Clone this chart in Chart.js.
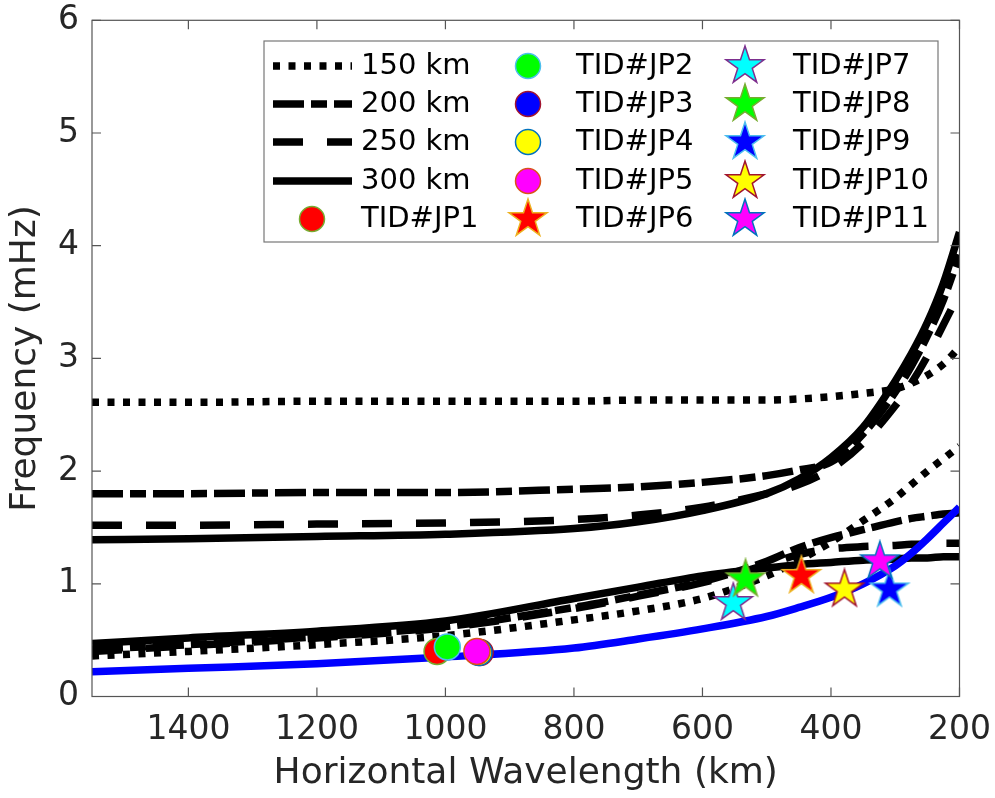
<!DOCTYPE html>
<html>
<head>
<meta charset="utf-8">
<script src="https://cdn.jsdelivr.net/npm/chart.js@4.4.0/dist/chart.umd.min.js"></script>
<style>
body { margin: 0; background: #fff; }
#wrap { width: 995px; height: 798px; }
</style>
</head>
<body>
<div id="wrap"><canvas id="canvas"></canvas></div>
<script>
// sample wavelengths (km)
var wavelength = [1550, 1400, 1200, 1000, 800, 700, 600, 500, 450, 400, 350, 300, 275, 250, 225, 200];
// upper branches (mHz)
var up150 = [2.61, 2.61, 2.62, 2.62, 2.62, 2.63, 2.63, 2.63, 2.64, 2.66, 2.69, 2.73, 2.78, 2.85, 2.95, 3.10];
var up200 = [1.80, 1.80, 1.81, 1.81, 1.84, 1.86, 1.90, 1.96, 2.01, 2.08, 2.33, 2.70, 2.93, 3.20, 3.52, 3.92];
var up250 = [1.52, 1.52, 1.53, 1.54, 1.57, 1.61, 1.68, 1.80, 1.88, 2.02, 2.25, 2.58, 2.78, 3.02, 3.30, 3.58];
var up300 = [1.39, 1.40, 1.42, 1.44, 1.49, 1.55, 1.65, 1.80, 1.93, 2.12, 2.39, 2.80, 3.04, 3.32, 3.67, 4.12];
// lower branches (mHz)
var lo150 = [0.36, 0.40, 0.46, 0.54, 0.68, 0.76, 0.87, 1.07, 1.21, 1.37, 1.56, 1.76, 1.88, 2.00, 2.11, 2.22];
var lo200 = [0.42, 0.46, 0.53, 0.62, 0.79, 0.90, 1.02, 1.20, 1.32, 1.41, 1.48, 1.55, 1.58, 1.60, 1.62, 1.63];
var lo250 = [0.40, 0.45, 0.52, 0.61, 0.78, 0.89, 1.01, 1.17, 1.26, 1.31, 1.33, 1.34, 1.35, 1.35, 1.36, 1.36];
var lo300 = [0.47, 0.52, 0.58, 0.67, 0.87, 0.97, 1.07, 1.14, 1.17, 1.19, 1.21, 1.22, 1.23, 1.23, 1.24, 1.24];
var blueCurve = [0.22, 0.25, 0.29, 0.35, 0.43, 0.51, 0.60, 0.71, 0.79, 0.88, 1.00, 1.16, 1.27, 1.40, 1.54, 1.68];

var altLabels = ['150 km', '200 km', '250 km', '300 km'];

var tidLabels = ['TID#JP1', 'TID#JP2', 'TID#JP3', 'TID#JP4', 'TID#JP5', 'TID#JP6',
                 'TID#JP7', 'TID#JP8', 'TID#JP9', 'TID#JP10', 'TID#JP11'];
var tidX = [1013, 997, 946, 948, 951, 446, 552, 533, 309, 379, 324];
var tidY = [0.40, 0.44, 0.39, 0.39, 0.40, 1.07, 0.83, 1.04, 0.95, 0.95, 1.20];

var xTicks = [1400, 1200, 1000, 800, 600, 400, 200];
var yTicks = [0, 1, 2, 3, 4, 5, 6];

// styles
var dashFor = { '150 km': [7, 8.5], '200 km': [31, 7, 16, 7], '250 km': [30, 24], '300 km': [] };
var tidFill = ['#ff0000', '#00ff00', '#0000ff', '#ffff00', '#ff00ff', '#ff0000',
               '#00ffff', '#00ff00', '#0000ff', '#ffff00', '#ff00ff'];
var tidEdge = ['#77ac30', '#4dbeee', '#a2142f', '#0072bd', '#d95319', '#edb120',
               '#7e2f8e', '#77ac30', '#4dbeee', '#a2142f', '#0072bd'];
var FONT = '"DejaVu Sans", sans-serif';

function makeStar(fill, edge, R) {
    var c = document.createElement('canvas');
    var s = Math.ceil(2 * R + 4);
    c.width = s; c.height = s;
    var g = c.getContext('2d');
    g.translate(s / 2, s / 2);
    g.beginPath();
    for (var i = 0; i < 10; i++) {
        var r = (i % 2 == 0) ? R : R * 0.382;
        var a = -Math.PI / 2 + i * Math.PI / 5;
        if (i == 0) g.moveTo(r * Math.cos(a), r * Math.sin(a));
        else g.lineTo(r * Math.cos(a), r * Math.sin(a));
    }
    g.closePath();
    g.fillStyle = fill;
    g.fill();
    g.lineWidth = 1.5;
    g.strokeStyle = edge;
    g.stroke();
    return c;
}

var starImgs = [];
for (var i = 0; i < tidLabels.length; i++) {
    starImgs.push(i >= 5 ? makeStar(tidFill[i], tidEdge[i], 20) : null);
}

function pts(ys) {
    return wavelength.map(function(w, i) { return { x: w, y: ys[i] }; });
}

var datasets = [];
function addCurve(label, ys, color, dash) {
    datasets.push({
        label: label,
        data: pts(ys),
        showLine: true,
        borderColor: color,
        borderWidth: 7.5,
        borderDash: dash,
        borderCapStyle: 'butt',
        pointRadius: 0,
        cubicInterpolationMode: 'monotone',
        fill: false
    });
}
addCurve('150 km', up150, '#000', dashFor['150 km']);
addCurve('150 km', lo150, '#000', dashFor['150 km']);
addCurve('200 km', up200, '#000', dashFor['200 km']);
addCurve('200 km', lo200, '#000', dashFor['200 km']);
addCurve('250 km', up250, '#000', dashFor['250 km']);
addCurve('250 km', lo250, '#000', dashFor['250 km']);
addCurve('300 km', up300, '#000', dashFor['300 km']);
addCurve('300 km', lo300, '#000', dashFor['300 km']);
addCurve('', blueCurve, '#0000ff', []);

for (var k = 0; k < tidLabels.length; k++) {
    datasets.push({
        label: tidLabels[k],
        data: [{ x: tidX[k], y: tidY[k] }],
        showLine: false,
        pointStyle: k < 5 ? 'circle' : starImgs[k],
        pointRadius: 13,
        backgroundColor: tidFill[k],
        borderColor: tidEdge[k],
        borderWidth: 1.5
    });
}
// later datasets on top
datasets.forEach(function(d, i) { d.order = 100 - i; });

var framePlugin = {
    id: 'frame',
    afterDatasetsDraw: function(chart) {
        var ctx = chart.ctx, a = chart.chartArea;
        var xs = chart.scales.x, ys = chart.scales.y;
        ctx.save();
        ctx.strokeStyle = '#555';
        ctx.lineWidth = 1.2;
        ctx.setLineDash([]);
        ctx.strokeRect(a.left, a.top, a.right - a.left, a.bottom - a.top);
        ctx.beginPath();
        xTicks.forEach(function(v) {
            var p = xs.getPixelForValue(v);
            ctx.moveTo(p, a.bottom); ctx.lineTo(p, a.bottom - 9);
            ctx.moveTo(p, a.top); ctx.lineTo(p, a.top + 9);
        });
        yTicks.forEach(function(v) {
            var p = ys.getPixelForValue(v);
            ctx.moveTo(a.left, p); ctx.lineTo(a.left + 9, p);
            ctx.moveTo(a.right, p); ctx.lineTo(a.right - 9, p);
        });
        ctx.stroke();
        ctx.restore();
    }
};

var legendPlugin = {
    id: 'boxLegend',
    afterDraw: function(chart) {
        var ctx = chart.ctx;
        var rows = [66, 104, 142, 181, 219];
        ctx.save();
        ctx.fillStyle = '#fff';
        ctx.fillRect(264, 41, 674, 201);
        ctx.strokeStyle = '#777';
        ctx.lineWidth = 1.2;
        ctx.strokeRect(264, 41, 674, 201);
        ctx.font = '29px ' + FONT;
        ctx.textBaseline = 'middle';
        ctx.textAlign = 'left';
        // altitude line samples
        altLabels.forEach(function(lab, i) {
            ctx.beginPath();
            ctx.strokeStyle = '#000';
            ctx.lineWidth = 7.5;
            ctx.lineCap = 'butt';
            ctx.setLineDash(dashFor[lab]);
            ctx.moveTo(273, rows[i]);
            ctx.lineTo(352, rows[i]);
            ctx.stroke();
            ctx.setLineDash([]);
            ctx.fillStyle = '#000';
            ctx.fillText(lab, 361, rows[i]);
        });
        // TID markers
        var cols = [[312, 361], [528, 576], [745, 793]];
        tidLabels.forEach(function(lab, k) {
            var slot = k + 4;
            var col = cols[Math.floor(slot / 5)];
            var y = rows[slot % 5];
            if (k < 5) {
                ctx.beginPath();
                ctx.arc(col[0], y, 12.5, 0, Math.PI * 2);
                ctx.fillStyle = tidFill[k];
                ctx.fill();
                ctx.lineWidth = 1.5;
                ctx.strokeStyle = tidEdge[k];
                ctx.stroke();
            } else {
                var img = starImgs[k];
                ctx.drawImage(img, col[0] - img.width / 2, y - img.height / 2);
            }
            ctx.fillStyle = '#000';
            ctx.fillText(lab, col[1], y);
        });
        ctx.restore();
    }
};

var ctx = document.getElementById('canvas').getContext('2d');
window.myChart = new Chart(ctx, {
    type: 'scatter',
    data: { datasets: datasets },
    options: {
        responsive: true,
        maintainAspectRatio: false,
        animation: false,
        layout: { padding: { left: 0, right: 35.5, top: 20.3, bottom: 0 } },
        plugins: {
            legend: { display: false },
            tooltip: { enabled: false }
        },
        scales: {
            x: {
                type: 'linear',
                reverse: true,
                min: 200,
                max: 1550,
                grid: { display: false, drawTicks: false },
                border: { display: false },
                afterBuildTicks: function(scale) {
                    scale.ticks = xTicks.map(function(v) { return { value: v }; });
                },
                afterFit: function(scale) {
                    scale.height = 101.5;
                    scale.paddingLeft = 0;
                    scale.paddingRight = 0;
                },
                ticks: {
                    padding: 14,
                    color: '#262626',
                    font: { family: FONT, size: 33 },
                    maxRotation: 0,
                    autoSkip: false,
                    callback: function(v) { return String(v); }
                },
                title: {
                    display: true,
                    text: 'Horizontal Wavelength (km)',
                    color: '#262626',
                    font: { family: FONT, size: 36 },
                    padding: { top: 0, bottom: 3 }
                }
            },
            y: {
                min: 0,
                max: 6,
                grid: { display: false, drawTicks: false },
                border: { display: false },
                afterBuildTicks: function(scale) {
                    scale.ticks = yTicks.map(function(v) { return { value: v }; });
                },
                afterFit: function(scale) {
                    scale.width = 92;
                    scale.paddingTop = 0;
                    scale.paddingBottom = 0;
                },
                ticks: {
                    padding: 13,
                    color: '#262626',
                    font: { family: FONT, size: 33 },
                    callback: function(v) { return String(v); }
                },
                title: {
                    display: true,
                    text: 'Frequency (mHz)',
                    color: '#262626',
                    font: { family: FONT, size: 36 },
                    padding: { top: 4, bottom: 0 }
                }
            }
        }
    },
    plugins: [framePlugin, legendPlugin]
});
</script>
</body>
</html>
